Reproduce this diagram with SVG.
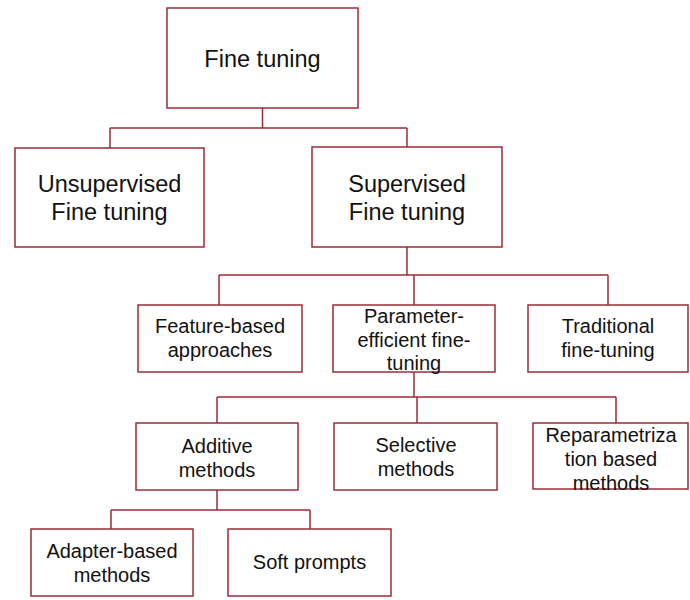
<svg xmlns="http://www.w3.org/2000/svg" width="690" height="600" viewBox="0 0 690 600">
  <style>
    .box { fill: #ffffff; stroke: #9c2b38; stroke-width: 1.5; }
    .link { fill: none; stroke: #9c2b38; stroke-width: 1.5; }
    .lbl { font-family: "Liberation Sans", Arial, sans-serif; fill: #111111; text-anchor: middle; }
    .big { font-size: 23.5px; }
    .small { font-size: 20px; }
  </style>
  <rect width="690" height="600" fill="#ffffff"/>

  <!-- tree connectors -->
  <g id="connectors">
    <path class="link" d="M262.5 108 V128 M110 128 H407 M110 128 V148 M407 128 V147"/>
    <path class="link" d="M407 247 V275 M219 275 H608 M219 275 V305 M414 275 V305 M608 275 V305"/>
    <path class="link" d="M414 372 V397 M217 397 H616 M217 397 V423 M417 397 V423 M616 397 V423"/>
    <path class="link" d="M217 490 V510 M111 510 H310 M111 510 V529 M310 510 V529"/>
  </g>

  <g id="fine-tuning">
    <rect class="box" x="167" y="8" width="191" height="100"/>
    <text class="lbl big" x="262.5" y="67">Fine tuning</text>
  </g>

  <g id="unsupervised">
    <rect class="box" x="15" y="148" width="189" height="99"/>
    <text class="lbl big" x="109.5" y="192">Unsupervised</text>
    <text class="lbl big" x="109.5" y="220">Fine tuning</text>
  </g>

  <g id="supervised">
    <rect class="box" x="312" y="147" width="190" height="100"/>
    <text class="lbl big" x="407" y="192">Supervised</text>
    <text class="lbl big" x="407" y="220">Fine tuning</text>
  </g>

  <g id="feature-based">
    <rect class="box" x="138" y="305" width="164" height="67"/>
    <text class="lbl small" x="220" y="333">Feature-based</text>
    <text class="lbl small" x="220" y="357">approaches</text>
  </g>

  <g id="peft">
    <rect class="box" x="333" y="305" width="162" height="67"/>
    <text class="lbl small" x="414" y="323">Parameter-</text>
    <text class="lbl small" x="414" y="347">efficient fine-</text>
    <text class="lbl small" x="414" y="370">tuning</text>
  </g>

  <g id="traditional">
    <rect class="box" x="528" y="305" width="160" height="67"/>
    <text class="lbl small" x="608" y="333">Traditional</text>
    <text class="lbl small" x="608" y="357">fine-tuning</text>
  </g>

  <g id="additive">
    <rect class="box" x="136" y="423" width="162" height="67"/>
    <text class="lbl small" x="217" y="453">Additive</text>
    <text class="lbl small" x="217" y="477">methods</text>
  </g>

  <g id="selective">
    <rect class="box" x="334" y="423" width="163" height="67"/>
    <text class="lbl small" x="416" y="452">Selective</text>
    <text class="lbl small" x="416" y="476">methods</text>
  </g>

  <g id="reparametrization">
    <rect class="box" x="533" y="423" width="155" height="66"/>
    <text class="lbl small" x="611" y="442">Reparametriza</text>
    <text class="lbl small" x="611" y="466">tion based</text>
    <text class="lbl small" x="611" y="490">methods</text>
  </g>

  <g id="adapter-based">
    <rect class="box" x="31" y="529" width="162" height="67"/>
    <text class="lbl small" x="112" y="558">Adapter-based</text>
    <text class="lbl small" x="112" y="582">methods</text>
  </g>

  <g id="soft-prompts">
    <rect class="box" x="228" y="529" width="163" height="67"/>
    <text class="lbl small" x="309.5" y="569">Soft prompts</text>
  </g>
</svg>
